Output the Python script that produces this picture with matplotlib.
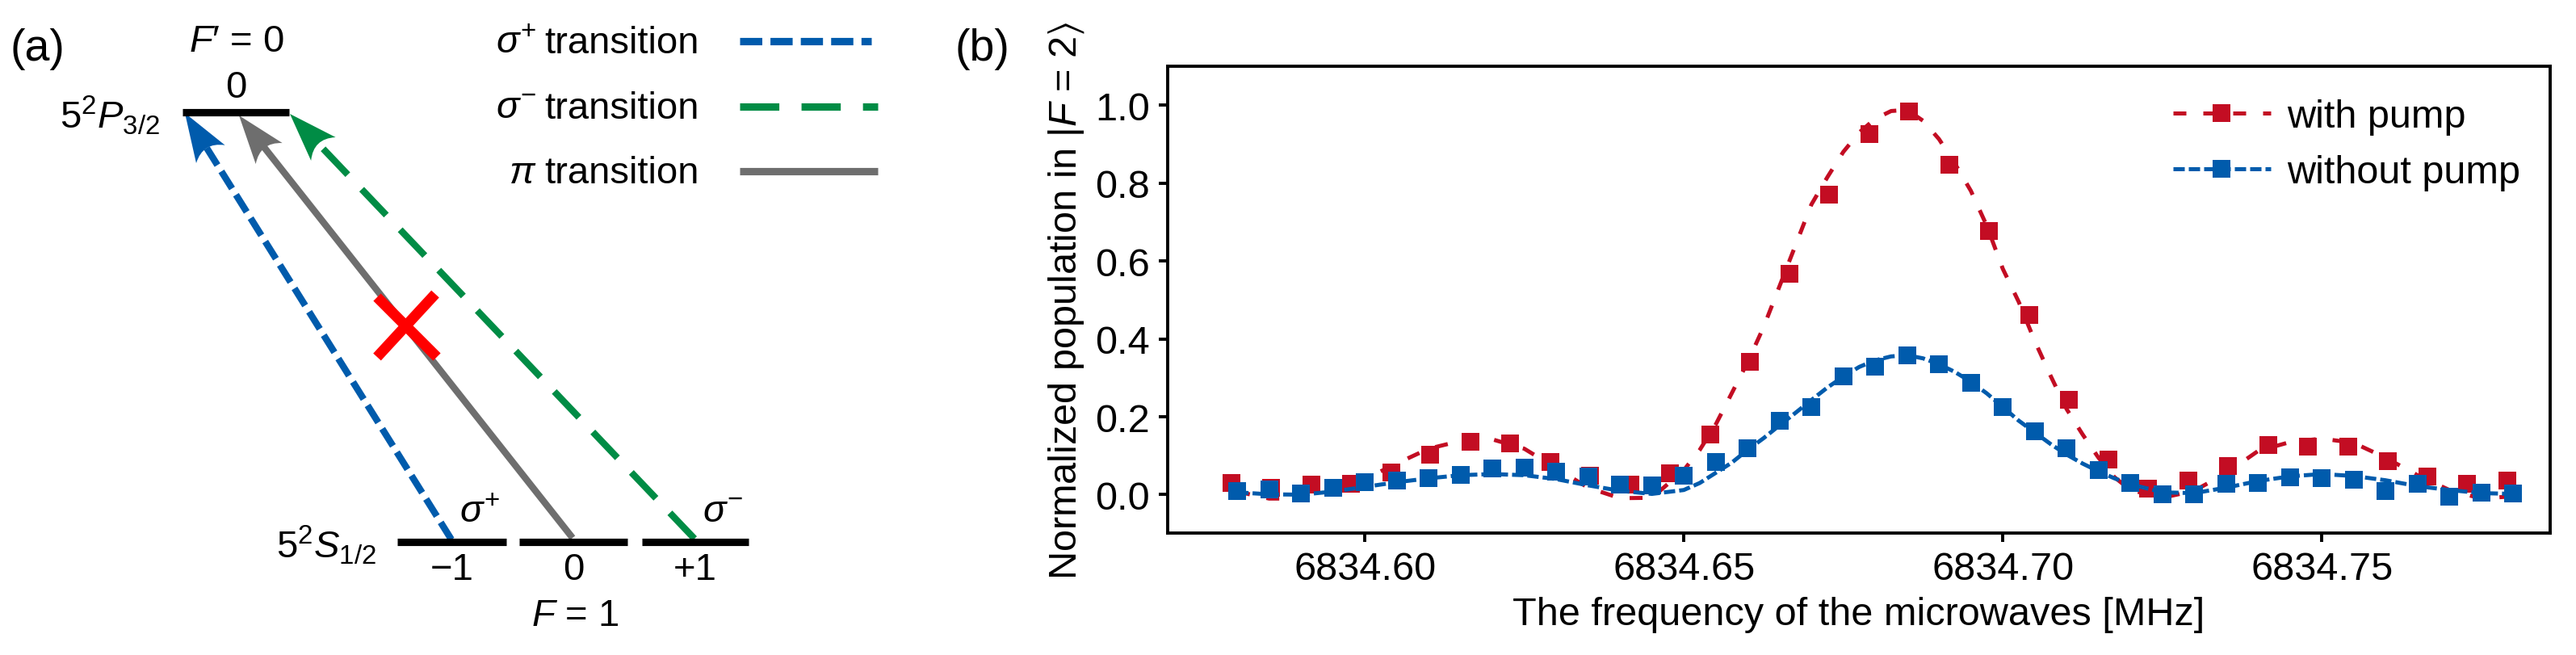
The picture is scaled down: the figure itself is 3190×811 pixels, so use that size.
import matplotlib
matplotlib.use('Agg')
import matplotlib.pyplot as plt
from matplotlib.lines import Line2D
from matplotlib.patches import PathPatch
from matplotlib.path import Path
import numpy as np

plt.rcParams['font.family']=['Liberation Sans','DejaVu Sans']
plt.rcParams['mathtext.fontset']='custom'
plt.rcParams['mathtext.rm']='Liberation Sans'
plt.rcParams['mathtext.it']='Liberation Sans:italic'
plt.rcParams['mathtext.bf']='Liberation Sans:bold'
plt.rcParams['mathtext.fallback']='stixsans'

BLUE='#005bac'
RED='#c30d23'
GREEN='#008c45'
GRAY='#6e6e6e'

#panel b, measured points
freq_with=[6834.5791,6834.5853,6834.5916,6834.5978,6834.6041,6834.6103,6834.6166,6834.6228,
	6834.6291,6834.6353,6834.6416,6834.6478,6834.6541,6834.6603,6834.6666,6834.6728,6834.6791,
	6834.6853,6834.6916,6834.6978,6834.7041,6834.7103,6834.7166,6834.7228,6834.7291,6834.7353,
	6834.7416,6834.7478,6834.7541,6834.7603,6834.7666,6834.7728,6834.7791]
pop_with=[.031,.017,.026,.028,.056,.103,.135,.132,.085,.048,.026,.055,.155,.342,.568,.770,.926,
	.983,.846,.676,.461,.243,.090,.015,.037,.074,.128,.123,.123,.086,.047,.028,.037]
freq_without=[6834.580,6834.585,6834.590,6834.595,6834.600,6834.605,6834.610,6834.615,6834.620,
	6834.625,6834.630,6834.635,6834.640,6834.645,6834.650,6834.655,6834.660,6834.665,6834.670,
	6834.675,6834.680,6834.685,6834.690,6834.695,6834.700,6834.705,6834.710,6834.715,6834.720,
	6834.725,6834.730,6834.735,6834.740,6834.745,6834.750,6834.755,6834.760,6834.765,6834.770,
	6834.775,6834.780]
pop_without=[.009,.013,.004,.018,.033,.037,.042,.050,.067,.069,.060,.047,.026,.024,.049,.085,.119,
	.190,.224,.303,.329,.358,.335,.288,.224,.163,.119,.063,.030,.002,.002,.028,.030,.044,.043,
	.038,.009,.027,-.006,.006,.004]

#panel b, fit curves
freq_fit=[6834.580,6834.585,6834.590,6834.595,6834.600,6834.605,6834.610,6834.615,6834.620,
	6834.625,6834.630,6834.635,6834.640,6834.645,6834.650,6834.6525,6834.655,6834.6575,6834.660,
	6834.6625,6834.665,6834.6675,6834.670,6834.6725,6834.675,6834.6775,6834.680,6834.6825,6834.685,
	6834.6875,6834.690,6834.6925,6834.695,6834.6975,6834.700,6834.7025,6834.705,6834.7075,6834.710,
	6834.7125,6834.715,6834.7175,6834.720,6834.725,6834.730,6834.735,6834.740,6834.745,6834.750,
	6834.755,6834.760,6834.765,6834.770,6834.775,6834.780]
fit_with=[.008,-.010,-.010,.005,.040,.080,.118,.138,.142,.118,.068,.018,-.009,-.008,.063,.115,.180,
	.260,.340,.430,.535,.640,.745,.815,.880,.930,.965,.985,.988,.960,.913,.850,.780,.690,.580,.495,
	.395,.305,.220,.155,.095,.045,.012,-.008,.010,.055,.112,.135,.144,.133,.095,.050,.012,-.010,-.004]
fit_without=[.006,.001,.000,.008,.020,.032,.042,.050,.053,.050,.040,.024,.010,.002,.012,.030,.056,
	.082,.115,.145,.178,.210,.243,.275,.303,.328,.345,.355,.358,.350,.335,.315,.290,.260,.225,.190,
	.160,.130,.103,.080,.060,.042,.027,.006,.004,.018,.035,.047,.053,.048,.037,.022,.012,.004,.002]

x_ticks=[6834.60,6834.65,6834.70,6834.75]
x_labels=['6834.60','6834.65','6834.70','6834.75']
y_ticks=[0,.2,.4,.6,.8,1]

#panel a, level scheme in pixels
upper_level=[226,358]
lower_levels=[[492,627],[643,777],[795,927]]
upper_y=140
lower_y=672
sublevel_labels=['\u22121','0','+1']

W,H=3190,812
fig=plt.figure(figsize=(W/200,H/200),dpi=200)

#whole figure in pixel coordinates for the level scheme
diag=fig.add_axes([0,0,1,1])
diag.set_xlim(0,W)
diag.set_ylim(H,0)
diag.axis('off')

def arrow(start,tip,color,dash):
	start=np.array(start,float)
	tip=np.array(tip,float)
	u=(start-tip)/np.linalg.norm(start-tip)
	n=np.array([-u[1],u[0]])
	length,half,notch=60,21,42
	diag.plot([start[0],(tip+u*50)[0]],[start[1],(tip+u*50)[1]],color=color,lw=3,ls=dash,dash_capstyle='butt',solid_capstyle='butt')
	verts=[tip,tip+u*length+n*half,tip+u*notch,tip+u*length-n*half,tip]
	codes=[Path.MOVETO,Path.LINETO,Path.CURVE3,Path.CURVE3,Path.CLOSEPOLY]
	diag.add_patch(PathPatch(Path(verts,codes),fc=color,ec='none'))

plus_dash=(0,(3,1.1))
minus_dash=(0,(5.3,3))
arrow((559,669),(229,141),BLUE,plus_dash)
arrow((709,667),(296,144),GRAY,'-')
arrow((860,668),(359,142),GREEN,minus_dash)

diag.plot(upper_level,[upper_y]*2,color='k',lw=3.3,solid_capstyle='butt')
for lev in lower_levels:
	diag.plot(lev,[lower_y]*2,color='k',lw=3.3,solid_capstyle='butt')

diag.plot([539,467],[365,443],color='#ff0000',lw=4.7,solid_capstyle='butt')
diag.plot([467,541],[369,443],color='#ff0000',lw=4.7,solid_capstyle='butt')

fs=17
center=dict(ha='center',va='center',fontsize=fs)
diag.text(13,61,'(a)',ha='left',va='center',fontsize=20)
diag.text(1182,61,'(b)',ha='left',va='center',fontsize=20)
diag.text(293,52,'$F$\u2032 = 0',**center)
diag.text(292,109,'0',**center)
diag.text(198,143,r'5$^{2}$$P_{3/2}$',ha='right',va='center',fontsize=fs)
diag.text(466,675,r'5$^{2}$$S_{1/2}$',ha='right',va='center',fontsize=fs)
diag.text(594,635,r'$\sigma^{+}$',**center)
diag.text(895,635,r'$\sigma^{-}$',**center)
for lev,lab in zip(lower_levels,sublevel_labels):
	diag.text(sum(lev)/2,706,lab,**center)
diag.text(712,763,r'$F$ = 1',**center)

#legend of panel a
rows=[(r'$\sigma^{+}$',54,BLUE,plus_dash,1079),
	(r'$\sigma^{-}$',135,GREEN,minus_dash,1087),
	(r'$\pi$',215,GRAY,'-',1087)]
for label,y,color,dash,end in rows:
	diag.text(664,y,label,ha='right',va='center',fontsize=fs)
	diag.text(866,y,'transition',ha='right',va='center',fontsize=fs)
	diag.plot([916,end],[y-2,y-2],color=color,lw=3.3,ls=dash,dash_capstyle='butt',solid_capstyle='butt')

#panel b
left,right,top,bottom=1446,3158,83,661
ax=fig.add_axes([left/W,1-bottom/H,(right-left)/W,(bottom-top)/H])
ax.plot(freq_fit,fit_with,color=RED,lw=1.8,ls=(0,(3.2,4.2)),dash_capstyle='butt')
ax.plot(freq_with,pop_with,'s',color=RED,ms=8,mew=0)
ax.plot(freq_fit,fit_without,color=BLUE,lw=1.8,ls=(0,(2.8,1)),dash_capstyle='butt')
ax.plot(freq_without,pop_without,'s',color=BLUE,ms=8,mew=0)
ax.set_xlim(6834.5691,6834.7858)
ax.set_ylim(-.0985,1.1)
ax.set_xticks(x_ticks)
ax.set_xticklabels(x_labels)
ax.set_yticks(y_ticks)
ax.set_yticklabels(['%.1f'%t for t in y_ticks])
ax.tick_params(labelsize=17.5,length=4,width=1.4,pad=4)
for s in ax.spines.values():
	s.set_linewidth(1.4)
ax.set_xlabel('The frequency of the microwaves [MHz]',fontsize=17.5,labelpad=4)
ax.set_ylabel(r'Normalized population in $|F$ = 2$\rangle$',fontsize=17.5,labelpad=4)

handles=[Line2D([],[],color=RED,lw=1.8,ls=(0,(3.2,4.2)),marker='s',ms=8,mew=0,dash_capstyle='butt'),
	Line2D([],[],color=BLUE,lw=1.8,ls=(0,(2.8,1)),marker='s',ms=8,mew=0,dash_capstyle='butt')]
ax.legend(handles,['with pump','without pump'],fontsize=17.5,frameon=False,loc='upper left',
	bbox_to_anchor=(.727,.93),handlelength=2.5,handletextpad=.4,labelspacing=.48,borderpad=0,borderaxespad=0)

fig.savefig('out.png',dpi=200)
